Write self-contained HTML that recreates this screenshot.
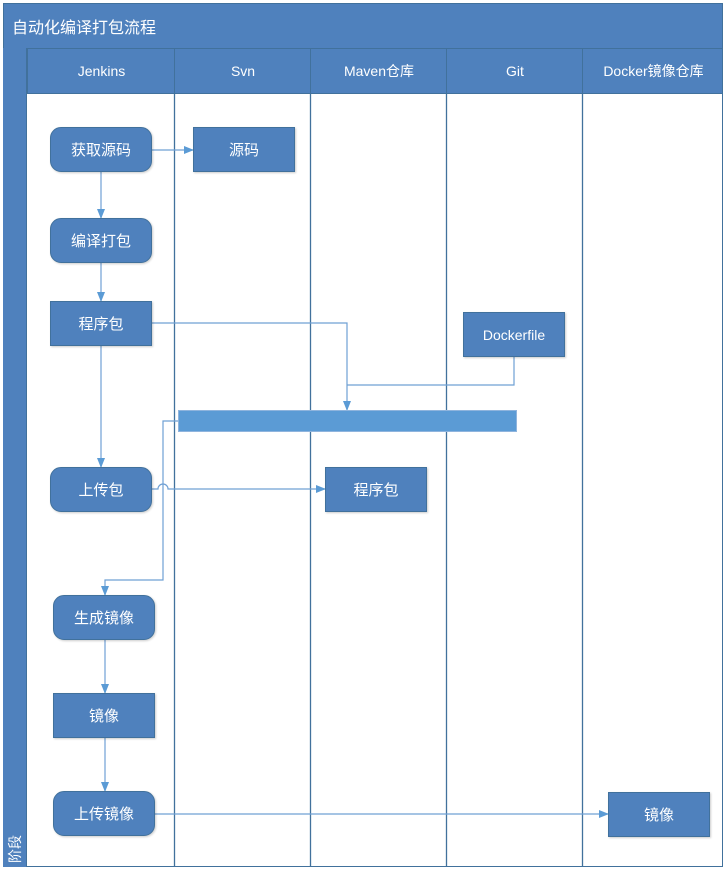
<!DOCTYPE html>
<html><head><meta charset="utf-8"><style>
body{margin:0;width:727px;height:875px;background:#fff;position:relative;font-family:"Liberation Sans","Noto Sans CJK SC",sans-serif;overflow:hidden}
.a{position:absolute;box-sizing:border-box}
.n{position:absolute;box-sizing:border-box;background:#4f81bd;color:#fff;font-size:15px;display:flex;align-items:center;justify-content:center;border:1px solid #41719c;box-shadow:1px 1px 2px rgba(0,0,0,.2)}
.r{border-radius:11px}
.h{position:absolute;top:48px;height:46px;color:#fff;font-size:14px;display:flex;align-items:center;justify-content:center;border-left:1px solid #41719c}
</style></head><body>
<div class="a" style="left:3px;top:3px;width:720px;height:864px;border:1px solid #41719c"></div>
<div class="a" style="left:3px;top:3px;width:720px;height:91px;background:#4f81bd;border:1px solid #41719c"></div>
<div class="a" style="left:3px;top:48px;width:720px;height:1px;background:#41719c"></div>
<div class="a" style="left:12px;top:14px;color:#fff;font-size:16px">自动化编译打包流程</div>
<div class="a" style="left:3px;top:48px;width:24px;height:819px;background:#4f81bd;border-right:1px solid #41719c"></div>
<div class="a" style="left:-7px;top:839px;color:#fff;font-size:14px;transform:rotate(-90deg);width:44px;height:20px;line-height:20px;text-align:center;white-space:nowrap">阶段</div>
<div class="h" style="left:27px;width:147px">Jenkins</div>
<div class="h" style="left:174px;width:136px">Svn</div>
<div class="h" style="left:310px;width:136px">Maven仓库</div>
<div class="h" style="left:446px;width:136px">Git</div>
<div class="h" style="left:582px;width:141px">Docker镜像仓库</div>
<svg class="a" style="left:0;top:0" width="727" height="875">
<g stroke="#41719c" stroke-width="1.3">
<line x1="174.5" y1="94" x2="174.5" y2="867"/><line x1="310.5" y1="94" x2="310.5" y2="867"/>
<line x1="446.5" y1="94" x2="446.5" y2="867"/><line x1="582.5" y1="94" x2="582.5" y2="867"/>
</g>
<defs><marker id="m" markerWidth="10" markerHeight="10" refX="9" refY="5" orient="auto" markerUnits="userSpaceOnUse"><path d="M0,1 L10,5 L0,9z" fill="#5b9bd5"/></marker></defs>
<g stroke="#6fa0d4" stroke-width="1.2" fill="none">
<path d="M152,150 H193" marker-end="url(#m)"/>
<path d="M101,172 V218" marker-end="url(#m)"/>
<path d="M101,263 V301" marker-end="url(#m)"/>
<path d="M101,346 V467" marker-end="url(#m)"/>
<path d="M152,323 H347 V410" marker-end="url(#m)"/>
<path d="M514,357 V385 H347"/>
<path d="M178,421 H163 V580 H105 V595" marker-end="url(#m)"/>
<path d="M152,489 H158 A5,5 0 0 1 168,489 H325" marker-end="url(#m)"/>
<path d="M105,640 V693" marker-end="url(#m)"/>
<path d="M105,738 V791" marker-end="url(#m)"/>
<path d="M155,814 H608" marker-end="url(#m)"/>
</g>
</svg>
<div class="a" style="left:178px;top:410px;width:339px;height:22px;background:#5b9bd5;border:1px solid #8fb4dd"></div>
<div class="n r" style="left:50px;top:127px;width:102px;height:45px">获取源码</div>
<div class="n" style="left:193px;top:127px;width:102px;height:45px">源码</div>
<div class="n r" style="left:50px;top:218px;width:102px;height:45px">编译打包</div>
<div class="n" style="left:50px;top:301px;width:102px;height:45px">程序包</div>
<div class="n" style="left:463px;top:312px;width:102px;height:45px;font-size:14px">Dockerfile</div>
<div class="n r" style="left:50px;top:467px;width:102px;height:45px">上传包</div>
<div class="n" style="left:325px;top:467px;width:102px;height:45px">程序包</div>
<div class="n r" style="left:53px;top:595px;width:102px;height:45px">生成镜像</div>
<div class="n" style="left:53px;top:693px;width:102px;height:45px">镜像</div>
<div class="n r" style="left:53px;top:791px;width:102px;height:45px">上传镜像</div>
<div class="n" style="left:608px;top:792px;width:102px;height:45px">镜像</div>
</body></html>
